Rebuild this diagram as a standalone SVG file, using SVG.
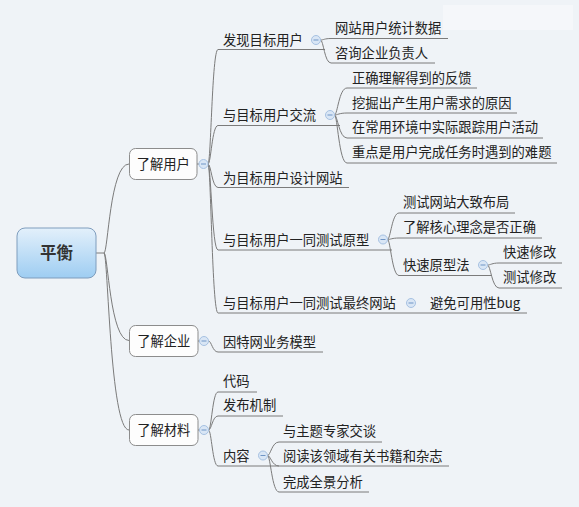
<svg xmlns="http://www.w3.org/2000/svg" width="579" height="507" viewBox="0 0 579 507">
<defs>
<linearGradient id="rootGrad" x1="0" y1="0" x2="0" y2="1">
<stop offset="0" stop-color="#e3f0fb"/>
<stop offset="1" stop-color="#9ecdf2"/>
</linearGradient>
<g id="minus">
<circle cx="0" cy="0" r="4.5" fill="#d9e6f5" stroke="#a6c1e2" stroke-width="1"/>
<line x1="-2.5" y1="0" x2="2.5" y2="0" stroke="#6f95c6" stroke-width="1"/>
</g>
</defs>
<style>
text{font-family:"Noto Sans CJK SC","Noto Sans",sans-serif;font-size:13.3px;fill:#222}
.root{font-size:16.5px;font-weight:bold;fill:#333;text-anchor:middle}
.mid{text-anchor:middle}
.c path,.c line{fill:none;stroke:#7b7b7b;stroke-width:1}
.box{fill:#fdfdfd;stroke:#8c8c8c;stroke-width:1}
</style>
<rect x="0" y="0" width="579" height="507" fill="#eff3f7"/>
<rect x="443" y="5" width="130" height="25" fill="#f5f7fa"/>

<g class="c" id="connectors">
<path d="M96,253 L104,253"/>
<path d="M104,253 C108,253 110,164 129,164"/>
<path d="M104,253 C108,253 110,340.5 129,340.5"/>
<path d="M104,253 C108,253 110,430 129,430"/>
<line x1="197" y1="164" x2="199" y2="164"/>
<line x1="198" y1="341" x2="199.5" y2="341"/>
<line x1="198" y1="430" x2="199.5" y2="430"/>
<path d="M208,164 C211,164 212,49.5 218,49.5"/>
<path d="M208,164 C211,164 212,125.5 218,125.5"/>
<path d="M208,164 C211,164 212,187.5 218,187.5"/>
<path d="M208,164 C211,164 212,250 218,250"/>
<path d="M208,164 C211,164 212,313 218,313"/>
<path d="M208.5,341 C211.5,341 212.5,352 218,352"/>
<path d="M208.5,430 C211.5,430 212.5,392 218,392"/>
<path d="M208.5,430 C211.5,430 212.5,416 218,416"/>
<path d="M208.5,430 C211.5,430 212.5,466 218,466"/>
<path d="M320.5,40 C323.5,40 324.5,38.5 331,38.5"/>
<path d="M320.5,40 C323.5,40 324.5,63 331,63"/>
<path d="M334.5,115 C337.5,115 339,88 347,88"/>
<path d="M334.5,115 C337.5,115 339,113 347,113"/>
<path d="M334.5,115 C337.5,115 339,138 347,138"/>
<path d="M334.5,115 C337.5,115 339,163 347,163"/>
<path d="M387.5,239.5 C390.5,239.5 392,213 399,213"/>
<path d="M387.5,239.5 C390.5,239.5 392,238 399,238"/>
<path d="M387.5,239.5 C390.5,239.5 392,275.5 399,275.5"/>
<path d="M487.5,265 C490.5,265 492,263 499,263"/>
<path d="M487.5,265 C490.5,265 492,288 499,288"/>
<path d="M267.5,455.5 C270.5,455.5 272,442 279,442"/>
<path d="M267.5,455.5 C270.5,455.5 272,466 279,466"/>
<path d="M267.5,455.5 C270.5,455.5 272,492 279,492"/>
</g>

<g id="root">
<rect x="17" y="228" width="79" height="50" rx="8" fill="url(#rootGrad)" stroke="#7f9dbd"/>
<text class="root" x="56.5" y="259">平衡</text>
</g>

<g id="n-yonghu">
<rect class="box" x="129.5" y="148.5" width="67.5" height="31" rx="6"/>
<text class="mid" x="163.3" y="169">了解用户</text>
<use href="#minus" x="203.5" y="164"/>
</g>
<g id="n-qiye">
<rect class="box" x="129.5" y="325.5" width="68.5" height="31" rx="6"/>
<text class="mid" x="163.8" y="346">了解企业</text>
<use href="#minus" x="204" y="341"/>
</g>
<g id="n-cailiao">
<rect class="box" x="129.5" y="414.5" width="68.5" height="31" rx="6"/>
<text class="mid" x="163.8" y="435">了解材料</text>
<use href="#minus" x="204" y="430"/>
</g>

<g class="c" id="n-faxian"><line x1="218" y1="49.5" x2="325" y2="49.5"/><text x="223" y="45">发现目标用户</text><use href="#minus" x="316" y="40"/></g>
<g class="c" id="n-tongji"><line x1="331" y1="38.5" x2="448" y2="38.5"/><text x="335" y="33">网站用户统计数据</text></g>
<g class="c" id="n-zixun"><line x1="331" y1="63" x2="435" y2="63"/><text x="335" y="58">咨询企业负责人</text></g>
<g class="c" id="n-jiaoliu"><line x1="218" y1="125.5" x2="340" y2="125.5"/><text x="223" y="120">与目标用户交流</text><use href="#minus" x="330" y="115"/></g>
<g class="c" id="n-fankui"><line x1="347" y1="88" x2="477" y2="88"/><text x="352" y="82.5">正确理解得到的反馈</text></g>
<g class="c" id="n-yuanyin"><line x1="347" y1="113" x2="517" y2="113"/><text x="352" y="107.5">挖掘出产生用户需求的原因</text></g>
<g class="c" id="n-genzong"><line x1="347" y1="138" x2="543" y2="138"/><text x="352" y="132">在常用环境中实际跟踪用户活动</text></g>
<g class="c" id="n-nanti"><line x1="347" y1="163" x2="557" y2="163"/><text x="352" y="157">重点是用户完成任务时遇到的难题</text></g>
<g class="c" id="n-sheji"><line x1="218" y1="187.5" x2="349" y2="187.5"/><text x="223" y="183">为目标用户设计网站</text></g>
<g class="c" id="n-yuanxing"><line x1="218" y1="250" x2="392" y2="250"/><text x="223" y="244.5">与目标用户一同测试原型</text><use href="#minus" x="383" y="239.5"/></g>
<g class="c" id="n-buju"><line x1="399" y1="213" x2="515" y2="213"/><text x="403" y="207">测试网站大致布局</text></g>
<g class="c" id="n-linian"><line x1="399" y1="238" x2="542" y2="238"/><text x="403" y="232">了解核心理念是否正确</text></g>
<g class="c" id="n-kuaisu"><line x1="399" y1="275.5" x2="492" y2="275.5"/><text x="403" y="270">快速原型法</text><use href="#minus" x="483" y="265"/></g>
<g class="c" id="n-xiugai1"><line x1="499" y1="263" x2="562" y2="263"/><text x="503" y="257">快速修改</text></g>
<g class="c" id="n-xiugai2"><line x1="499" y1="288" x2="562" y2="288"/><text x="503" y="282">测试修改</text></g>
<g class="c" id="n-zuizhong"><line x1="218" y1="313" x2="527" y2="313"/><text x="223" y="308">与目标用户一同测试最终网站</text><use href="#minus" x="411" y="303"/></g>
<g id="n-bug"><text x="430" y="308">避免可用性bug</text></g>
<g class="c" id="n-moxing"><line x1="218" y1="352" x2="323" y2="352"/><text x="223" y="347">因特网业务模型</text></g>
<g class="c" id="n-daima"><line x1="218" y1="392" x2="257" y2="392"/><text x="223" y="386">代码</text></g>
<g class="c" id="n-fabu"><line x1="218" y1="416" x2="283" y2="416"/><text x="223" y="410">发布机制</text></g>
<g class="c" id="n-neirong"><line x1="218" y1="466" x2="449" y2="466"/><text x="223" y="460.5">内容</text><use href="#minus" x="263" y="455.5"/></g>
<g class="c" id="n-jiaotan"><line x1="279" y1="442" x2="382" y2="442"/><text x="283" y="436">与主题专家交谈</text></g>
<g id="n-yuedu"><text x="283" y="460.5">阅读该领域有关书籍和杂志</text></g>
<g class="c" id="n-quanjing"><line x1="279" y1="492" x2="369" y2="492"/><text x="283" y="487">完成全景分析</text></g>
</svg>
